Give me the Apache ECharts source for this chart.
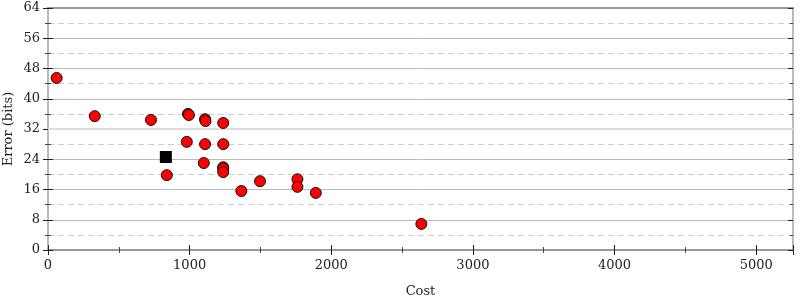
<!DOCTYPE html>
<html><head><meta charset="utf-8">
<script src="https://cdn.jsdelivr.net/npm/echarts@6/dist/echarts.min.js"></script>
<style>html,body{margin:0;padding:0;background:#fff}#c{width:800px;height:300px}</style>
</head><body><div id="c"></div>
<script>
var costs = [61, 330, 727, 988, 995, 1109, 1112, 1237, 980, 1109, 1237, 1100, 1237, 1237, 1237, 1365, 1497, 1761, 1761, 1891, 2636, 839];
var errors = [45.5, 35.4, 34.4, 36.0, 35.7, 34.6, 34.1, 33.6, 28.6, 28.0, 28.0, 23.0, 21.9, 21.5, 20.6, 15.6, 18.2, 18.7, 16.7, 15.1, 6.9, 19.8];
var refCost = [832];
var refError = [24.6];
var yTicks = [0, 8, 16, 24, 32, 40, 48, 56, 64];
var xTicks = [0, 1000, 2000, 3000, 4000, 5000];

var font = 'DejaVu Serif';
var fs = 13;
var chart = echarts.init(document.getElementById('c'));
function plain(v) { return String(v); }
function yAx(pos, inside, labels, extra) {
  var a = {
    type: 'value', position: pos, min: yTicks[0], max: yTicks[yTicks.length-1], interval: yTicks[1]-yTicks[0],
    axisLine: {show: true, lineStyle: {color: '#bbb', width: 2}},
    axisTick: {show: true, inside: inside, length: 5, lineStyle: {color: '#222', width: 1}},
    minorTick: {show: true, splitNumber: 2, length: 3, lineStyle: {color: '#444', width: 1}},
    axisLabel: {show: labels, color: '#222', fontFamily: font, fontSize: fs, margin: 8, formatter: plain},
    splitLine: {show: false}, minorSplitLine: {show: false}
  };
  return Object.assign(a, extra || {});
}
var opt = {
  animation: false,
  grid: {left: 48, right: 7, top: 8, bottom: 50, containLabel: false, outerBoundsMode: 'none'},
  xAxis: [
    {type: 'value', position: 'bottom', min: 0, max: 5260, interval: xTicks[1]-xTicks[0],
     name: 'Cost', nameLocation: 'middle', nameGap: 35, nameMoveOverlap: false,
     nameTextStyle: {color: '#222', fontFamily: font, fontSize: fs},
     axisLine: {show: true, onZero: false, lineStyle: {color: '#999', width: 2}},
     axisTick: {show: true, length: 5, lineStyle: {color: '#222'}},
     minorTick: {show: true, splitNumber: 2, length: 3, lineStyle: {color: '#444'}},
     axisLabel: {color: '#222', fontFamily: font, fontSize: fs, margin: 9, showMaxLabel: false, formatter: plain},
     splitLine: {show: false}},
    {type: 'value', position: 'bottom', min: 0, max: 5260, interval: 1000,
     axisLine: {show: false, onZero: false},
     axisTick: {show: true, inside: true, length: 5, lineStyle: {color: '#222'}},
     minorTick: {show: true, splitNumber: 2, length: 3, lineStyle: {color: '#444'}},
     axisLabel: {show: false}, splitLine: {show: false}},
    {type: 'value', position: 'top', min: 0, max: 5260,
     axisLine: {show: true, onZero: false, lineStyle: {color: '#999', width: 2}},
     axisTick: {show: false}, axisLabel: {show: false}, splitLine: {show: false}}
  ],
  yAxis: [
    yAx('left', false, true, {
      name: 'Error (bits)', nameLocation: 'middle', nameGap: 33, nameMoveOverlap: false,
      nameTextStyle: {color: '#222', fontFamily: font, fontSize: fs},
      splitLine: {show: true, lineStyle: {color: '#bbb', width: 1}},
      minorSplitLine: {show: true, lineStyle: {color: '#ccc', width: 1, type: [6, 4]}}
    }),
    yAx('left', true, false),
    yAx('right', false, false),
    yAx('right', true, false)
  ],
  series: [
    {type: 'line', xAxisIndex: 0, yAxisIndex: 0, data: [], silent: true,
     markLine: {silent: true, symbol: 'none', label: {show: false},
       lineStyle: {color: '#ddd', width: 2, type: 'solid'}, data: [{yAxis: 32}]}},
    {type: 'scatter', xAxisIndex: 0, yAxisIndex: 0, symbol: 'circle', symbolSize: 11,
     itemStyle: {color: '#ff0000', borderColor: '#111', borderWidth: 1, opacity: 1},
     data: costs.map(function(c, i){ return [c, errors[i]]; }), z: 5},
    {type: 'scatter', xAxisIndex: 0, yAxisIndex: 0, symbol: 'rect', symbolSize: 12,
     itemStyle: {color: '#000', opacity: 1},
     data: refCost.map(function(c, i){ return [c, refError[i]]; }), z: 6}
  ]
};
chart.setOption(opt);
</script></body></html>
